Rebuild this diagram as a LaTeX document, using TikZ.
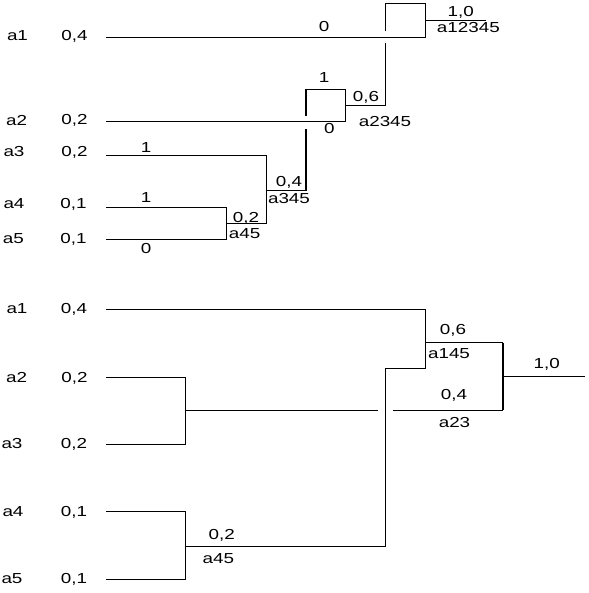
\documentclass[tikz,border=0pt]{standalone}
\usepackage{fontspec}
\usepackage{graphicx}
\setmainfont{Liberation Sans}
\newcommand{\wtx}[1]{\scalebox{1.3}[1]{#1}}
\begin{document}
\begin{tikzpicture}[x=1pt,y=-1pt,
  lbl/.style={inner sep=0pt,font=\fontsize{14.5}{16}\selectfont},
  ln/.style={line width=1pt},
  thk/.style={line width=2pt}]
\useasboundingbox (0,0) rectangle (588,593);
% ---------------- top diagram ----------------
\node[lbl] (ta1) at (17.5,36) {\wtx{a1}};
\node[lbl] (ta2) at (16.7,120.5) {\wtx{a2}};
\node[lbl] (ta3) at (14,152) {\wtx{a3}};
\node[lbl] (ta4) at (14,204) {\wtx{a4}};
\node[lbl] (ta5) at (13.3,239) {\wtx{a5}};
\node[lbl] (tp1) at (74.5,36) {\wtx{0,4}};
\node[lbl] (tp2) at (74.5,120.5) {\wtx{0,2}};
\node[lbl] (tp3) at (74.5,152) {\wtx{0,2}};
\node[lbl] (tp4) at (73.5,204) {\wtx{0,1}};
\node[lbl] (tp5) at (73.5,239) {\wtx{0,1}};
% coordinates
\coordinate (t1s) at (106,37.3);
\coordinate (t1e) at (425.7,37.3);
\coordinate (t1u) at (425.7,4);
\coordinate (t1ul) at (385.7,4);
\coordinate (t1g1) at (385.7,31);
\coordinate (t1g2) at (385.7,43);
\coordinate (t1d) at (385.7,106);
\coordinate (t6l) at (345.7,106);
\coordinate (trs) at (425.7,21);
\coordinate (tre) at (486,21);
\coordinate (t2s) at (106,122);
\coordinate (t2e) at (345.7,122);
\coordinate (t2u) at (345.7,89.3);
\coordinate (t2ul) at (305.7,89.3);
\coordinate (t2g1) at (305.7,116);
\coordinate (t2g2) at (305.7,129);
\coordinate (t2d) at (305.7,190.7);
\coordinate (t4l) at (266,190.7);
\coordinate (t3s) at (106,156);
\coordinate (t3e) at (266,156);
\coordinate (t3d) at (266,224);
\coordinate (t45l) at (226.7,224);
\coordinate (t4s) at (106,207.3);
\coordinate (t4e) at (226.7,207.3);
\coordinate (t5e) at (226.7,240);
\coordinate (t5s) at (106,240);
\draw[ln] (t1s) -- (t1e) -- (t1u) -- (t1ul) -- (t1g1);
\draw[ln] (t1g2) -- (t1d) -- (t6l);
\draw[ln] (trs) -- (tre);
\draw[ln] (t2s) -- (t2e) -- (t2u) -- (t2ul);
\draw[thk] (t2ul) -- (t2g1);
\draw[thk] (t2g2) -- (t2d);
\draw[ln] (t2d) -- (t4l);
\draw[ln] (t3s) -- (t3e) -- (t3d) -- (t45l);
\draw[ln] (t4s) -- (t4e) -- (t5e) -- (t5s);
% labels
\node[lbl] (tl0a) at (324,27) {\wtx{0}};
\node[lbl] (tl10) at (460.7,12.5) {\wtx{1,0}};
\node[lbl] (tla12345) at (468.3,28) {\wtx{a12345}};
\node[lbl] (tl06) at (366,97.5) {\wtx{0,6}};
\node[lbl] (tl1a) at (324,77.5) {\wtx{1}};
\node[lbl] (tl0b) at (329.3,129) {\wtx{0}};
\node[lbl] (tla2345) at (385,121.5) {\wtx{a2345}};
\node[lbl] (tl1b) at (146,147.5) {\wtx{1}};
\node[lbl] (tl04) at (289,182) {\wtx{0,4}};
\node[lbl] (tla345) at (289,198.5) {\wtx{a345}};
\node[lbl] (tl1c) at (146,197.5) {\wtx{1}};
\node[lbl] (tl02) at (246,218) {\wtx{0,2}};
\node[lbl] (tla45) at (244.7,234) {\wtx{a45}};
\node[lbl] (tl0c) at (146,249) {\wtx{0}};
% ---------------- bottom diagram ----------------
\node[lbl] (ba1) at (17,309) {\wtx{a1}};
\node[lbl] (ba2) at (16.7,378) {\wtx{a2}};
\node[lbl] (ba3) at (12,444) {\wtx{a3}};
\node[lbl] (ba4) at (13,512) {\wtx{a4}};
\node[lbl] (ba5) at (12,579) {\wtx{a5}};
\node[lbl] (bp1) at (74,309) {\wtx{0,4}};
\node[lbl] (bp2) at (74.5,378) {\wtx{0,2}};
\node[lbl] (bp3) at (74,444) {\wtx{0,2}};
\node[lbl] (bp4) at (74,512) {\wtx{0,1}};
\node[lbl] (bp5) at (74,579) {\wtx{0,1}};
\coordinate (b1s) at (106,309);
\coordinate (b1e) at (425.7,309);
\coordinate (b1d) at (425.7,368.3);
\coordinate (b1l) at (385.7,368.3);
\coordinate (b1dd) at (385.7,546);
\coordinate (b45r) at (185.7,546);
\coordinate (b6s) at (425.7,342.7);
\coordinate (b6e) at (503,342.7);
\coordinate (b4e) at (503,410);
\coordinate (brs) at (503,376.7);
\coordinate (bre) at (585,376.7);
\coordinate (b2s) at (106,377.3);
\coordinate (b2e) at (185.7,377.3);
\coordinate (b3e) at (185.7,444);
\coordinate (b3s) at (106,444);
\coordinate (b23m) at (185.7,410);
\coordinate (b23g1) at (377.7,410);
\coordinate (b23g2) at (393.3,410);
\coordinate (b4s) at (106,511.7);
\coordinate (b4e2) at (185.7,511.7);
\coordinate (b5e) at (185.7,579);
\coordinate (b5s) at (106,579);
\draw[ln] (b1s) -- (b1e) -- (b1d) -- (b1l) -- (b1dd) -- (b45r);
\draw[ln] (b6s) -- (b6e);
\draw[thk] (b6e) -- (b4e);
\draw[ln] (brs) -- (bre);
\draw[ln] (b2s) -- (b2e) -- (b3e) -- (b3s);
\draw[ln] (b23m) -- (b23g1);
\draw[ln] (b23g2) -- (b4e);
\draw[ln] (b4s) -- (b4e2) -- (b5e) -- (b5s);
\node[lbl] (bl02) at (221.7,535) {\wtx{0,2}};
\node[lbl] (bla45) at (218.3,559) {\wtx{a45}};
\node[lbl] (bl06) at (453,330) {\wtx{0,6}};
\node[lbl] (bla145) at (449,354) {\wtx{a145}};
\node[lbl] (bl04) at (454,395) {\wtx{0,4}};
\node[lbl] (bla23) at (454.5,423) {\wtx{a23}};
\node[lbl] (bl10) at (546.7,364) {\wtx{1,0}};
\end{tikzpicture}
\end{document}
